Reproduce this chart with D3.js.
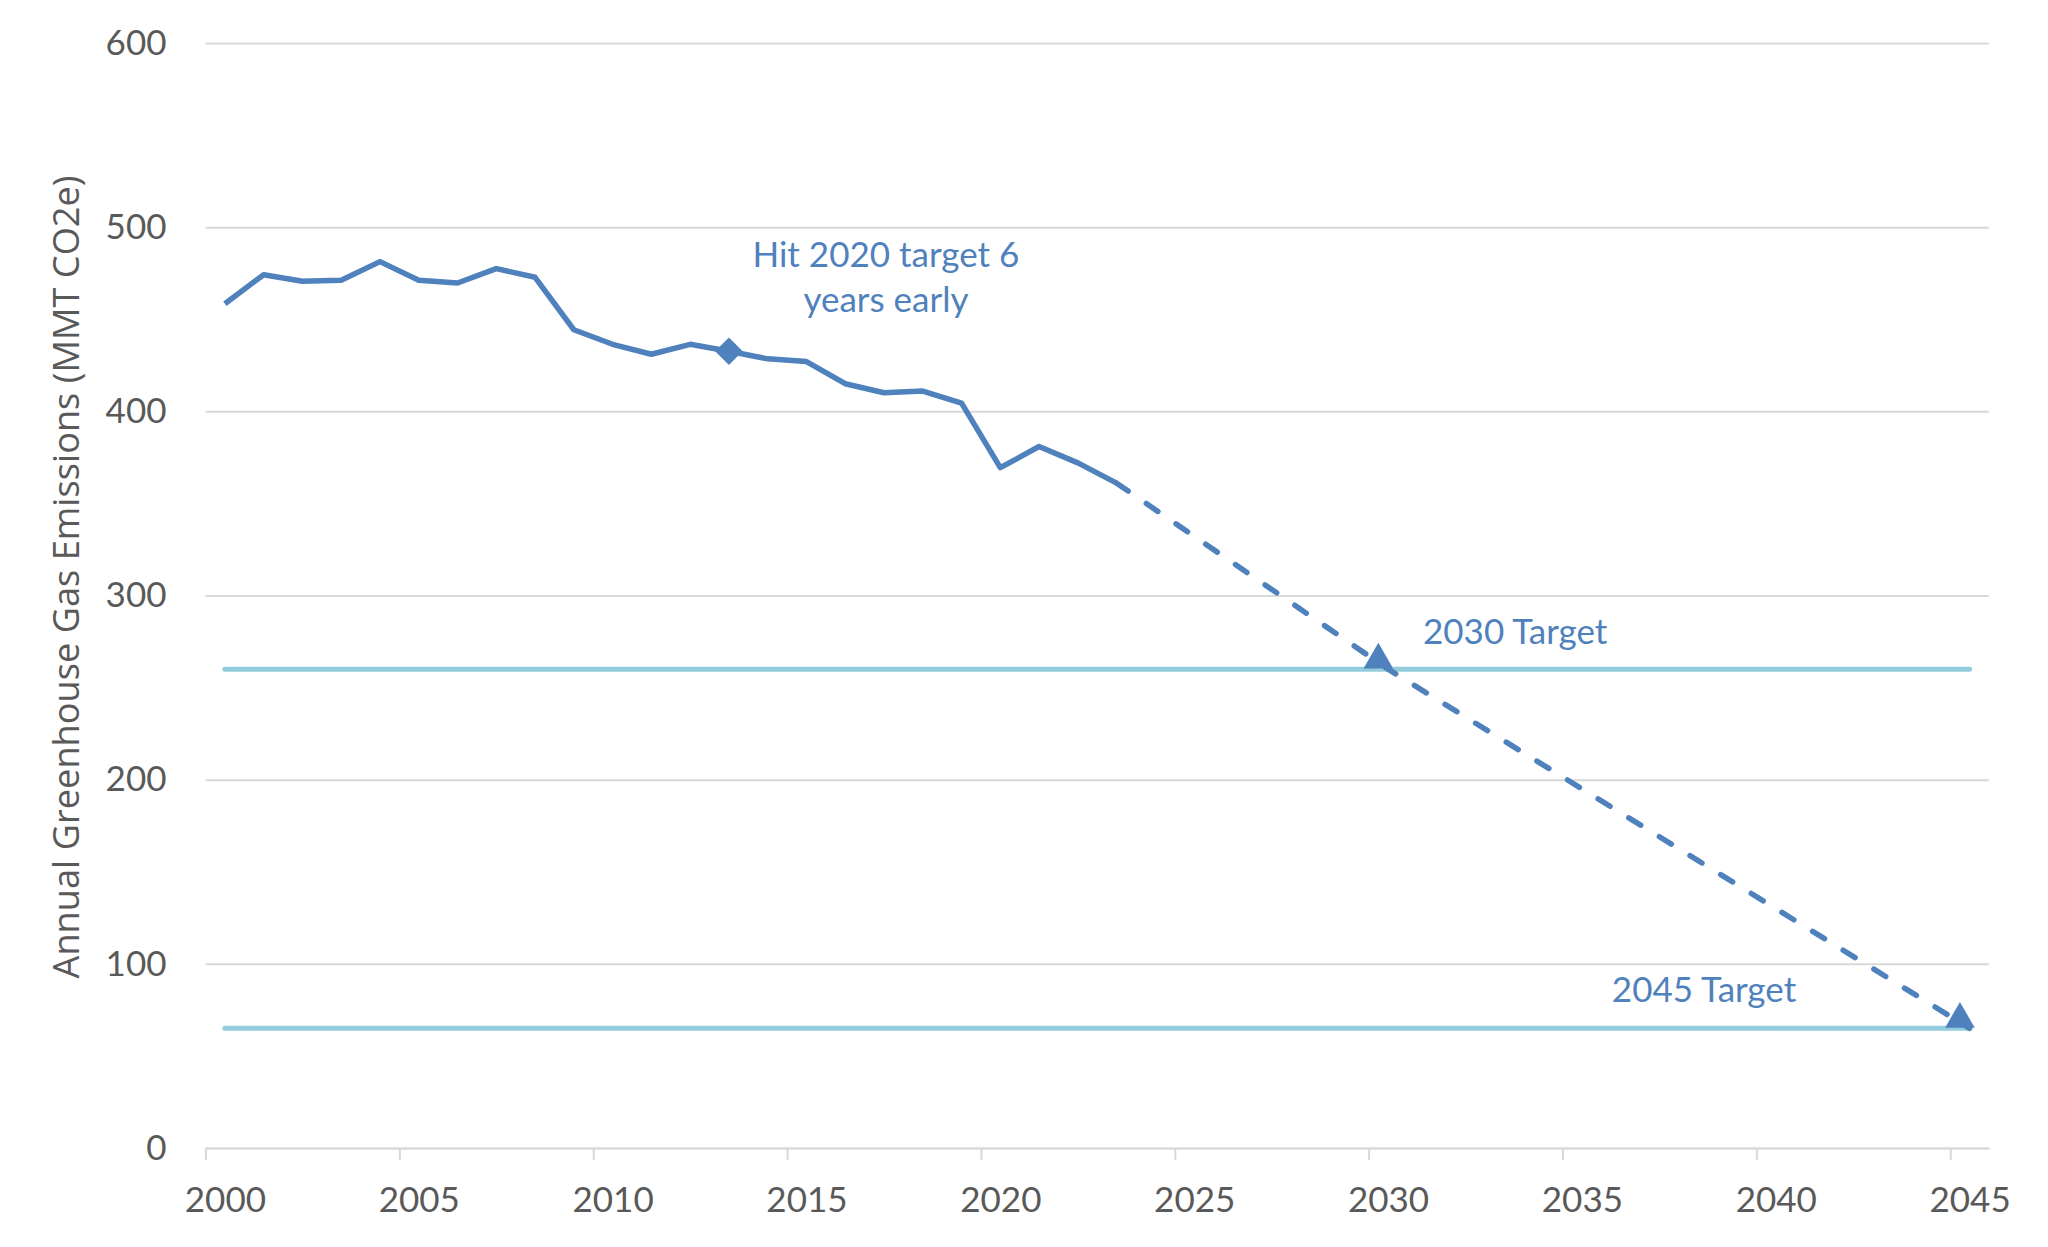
<!DOCTYPE html>
<html>
<head>
<meta charset="utf-8">
<script src="https://cdn.jsdelivr.net/npm/d3@7"></script>
<style>
  body { margin: 0; background: #fff; }
  svg text { fill: #595959; }
</style>
</head>
<body>
<div id="chart"></div>
<script>
// emissions history (MMT CO2e)
var years = [2000, 2001, 2002, 2003, 2004, 2005, 2006, 2007, 2008, 2009, 2010, 2011,
             2012, 2013, 2014, 2015, 2016, 2017, 2018, 2019, 2020, 2021, 2022, 2023];
var emissions = [458.4, 474.2, 470.6, 471.2, 481.3, 471.2, 469.7, 477.5, 472.8, 444.3, 436.4, 431,
                 436.4, 432.6, 428.5, 427, 415, 410.1, 411, 404.5, 369.4, 380.9, 372, 361];

// projected path to the targets
var projYears = [2023, 2030, 2045];
var projValues = [361, 260, 65];

// target levels
var targetNames = ["2030 Target", "2045 Target"];
var targetValues = [260, 65];
var targetStart = 2000, targetEnd = 2045;

// triangle markers near the targets
var markerYears = [2029.75, 2044.75];
var markerValues = [265, 70];

// point where the 2020 target was reached
var hitYear = 2013;
var hitNote = ["Hit 2020 target 6", "years early"];

var xTicks = [2000, 2005, 2010, 2015, 2020, 2025, 2030, 2035, 2040, 2045];
var yTicks = [0, 100, 200, 300, 400, 500, 600];

var W = 2048, H = 1247;
var margin = {top: 43, right: 59, bottom: 99, left: 205.5};

var blue = "#4F81BD", light = "#93CDDD", grid = "#D9D9D9";

var svg = d3.select("#chart").append("svg")
    .attr("width", W).attr("height", H);

// one category per year, points sit in the middle of their year
var x = d3.scaleLinear().domain([2000, 2046]).range([margin.left, W - margin.right]);
var y = d3.scaleLinear().domain([0, 600]).range([H - margin.bottom, margin.top]);
var xc = function(yr) { return x(yr + 0.5); };

// gridlines + y labels
var yAxis = svg.append("g")
    .attr("transform", "translate(" + margin.left + ",0)")
    .call(d3.axisLeft(y).tickValues(yTicks)
        .tickSize(-(W - margin.right - margin.left)).tickPadding(39));
yAxis.select(".domain").remove();
yAxis.selectAll(".tick line").attr("stroke", grid).attr("stroke-width", 2);
yAxis.selectAll(".tick text")
    .attr("font-family", "Lato, sans-serif").attr("font-size", 35).attr("fill", "#595959");

// x axis
var xAxis = svg.append("g")
    .attr("transform", "translate(0," + y(0) + ")")
    .call(d3.axisBottom(x).tickValues(xTicks).tickFormat(d3.format("d"))
        .tickSize(12).tickSizeOuter(0).tickPadding(27));
xAxis.select(".domain").attr("stroke", grid).attr("stroke-width", 2);
xAxis.selectAll(".tick line").attr("stroke", grid).attr("stroke-width", 2);
xAxis.selectAll(".tick text")
    .attr("x", (x(2001) - x(2000)) / 2)
    .attr("font-family", "Lato, sans-serif").attr("font-size", 35).attr("fill", "#595959");

// axis title
svg.append("text")
    .attr("transform", "translate(79,577) rotate(-90)")
    .attr("text-anchor", "middle")
    .attr("font-family", "'Open Sans', sans-serif")
    .attr("font-size", 36.2)
    .text("Annual Greenhouse Gas Emissions (MMT CO2e)");

// target lines
svg.selectAll(".target").data(targetValues).enter().append("line")
    .attr("class", "target")
    .attr("x1", xc(targetStart)).attr("x2", xc(targetEnd))
    .attr("y1", function(d) { return y(d); }).attr("y2", function(d) { return y(d); })
    .attr("stroke", light).attr("stroke-width", 5).attr("stroke-linecap", "round");

// history line
svg.append("path")
    .datum(years)
    .attr("d", d3.line()
        .x(function(d) { return xc(d); })
        .y(function(d, i) { return y(emissions[i]); }))
    .attr("fill", "none").attr("stroke", blue).attr("stroke-width", 5.5)
    .attr("stroke-linejoin", "round");

// projection (dashed)
svg.append("path")
    .datum(projYears)
    .attr("d", d3.line()
        .x(function(d) { return xc(d); })
        .y(function(d, i) { return y(projValues[i]); }))
    .attr("fill", "none").attr("stroke", blue).attr("stroke-width", 5.5)
    .attr("stroke-dasharray", "14 22").attr("stroke-linecap", "round");

// diamond at the year the 2020 target was hit (rotated square)
var hi = years.indexOf(hitYear);
svg.append("path")
    .attr("d", d3.symbol().type(d3.symbolSquare).size(380)())
    .attr("transform", "translate(" + xc(hitYear) + "," + y(emissions[hi]) + ") rotate(45)")
    .attr("fill", blue);

// triangle markers
svg.selectAll(".tri").data(markerYears).enter().append("path")
    .attr("class", "tri")
    .attr("d", d3.symbol().type(d3.symbolTriangle).size(380)())
    .attr("transform", function(d, i) {
        return "translate(" + xc(d) + "," + y(markerValues[i]) + ")";
    })
    .attr("fill", blue);

// annotations
var noteFont = "Lato, sans-serif";
svg.selectAll(".note").data(hitNote).enter().append("text")
    .attr("class", "note")
    .attr("x", xc(2017.05))
    .attr("y", function(d, i) { return y(478.4 - i * 24.4); })
    .attr("text-anchor", "middle")
    .attr("font-family", noteFont).attr("font-size", 35)
    .style("fill", blue)
    .text(function(d) { return d; });

var labelYears = [2033.28, 2038.15];
var labelValues = [273.7, 79.3];
svg.selectAll(".tlabel").data(targetNames).enter().append("text")
    .attr("class", "tlabel")
    .attr("x", function(d, i) { return xc(labelYears[i]); })
    .attr("y", function(d, i) { return y(labelValues[i]); })
    .attr("text-anchor", "middle")
    .attr("font-family", noteFont).attr("font-size", 35)
    .style("fill", blue)
    .text(function(d) { return d; });
</script>
</body>
</html>
